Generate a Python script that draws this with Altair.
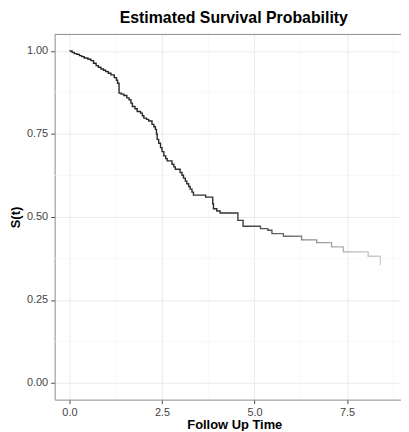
import altair as alt
import pandas as pd

# Kaplan-Meier style estimate
time = [0.0, 0.07, 0.13, 0.2, 0.27, 0.33, 0.4, 0.5, 0.58, 0.65, 0.72, 0.78, 0.85, 0.92,
        0.98, 1.05, 1.12, 1.21, 1.27, 1.3, 1.34, 1.4, 1.47, 1.55, 1.61, 1.66, 1.7, 1.77,
        1.83, 1.92, 1.97, 2.01, 2.08, 2.14, 2.23, 2.28, 2.32, 2.35, 2.37, 2.41, 2.46, 2.5,
        2.55, 2.6, 2.64, 2.77, 2.82, 2.86, 2.99, 3.04, 3.08, 3.13, 3.17, 3.22, 3.26, 3.31,
        3.35, 3.68, 3.87, 3.89, 3.98, 4.07, 4.55, 4.69, 5.16, 5.36, 5.47, 5.78, 6.27,
        6.68, 7.08, 7.4, 8.07, 8.4]
surv = [1.0, 0.996, 0.992, 0.99, 0.986, 0.983, 0.979, 0.975, 0.971, 0.963, 0.956, 0.951,
        0.946, 0.942, 0.938, 0.933, 0.928, 0.92, 0.912, 0.903, 0.873, 0.87, 0.866, 0.859,
        0.853, 0.843, 0.833, 0.826, 0.818, 0.813, 0.805, 0.798, 0.794, 0.789, 0.779, 0.772,
        0.764, 0.75, 0.734, 0.722, 0.709, 0.697, 0.684, 0.676, 0.669, 0.659, 0.651, 0.644,
        0.634, 0.626, 0.617, 0.608, 0.6, 0.592, 0.584, 0.575, 0.566, 0.56, 0.54, 0.525,
        0.518, 0.512, 0.49, 0.472, 0.465, 0.46, 0.45, 0.442, 0.431, 0.423, 0.41, 0.395,
        0.382, 0.355]

x_major = [0.0, 2.5, 5.0, 7.5]
x_minor = [1.25, 3.75, 6.25, 8.75]
y_major = [0.0, 0.25, 0.5, 0.75, 1.0]
y_minor = [0.125, 0.375, 0.625, 0.875]

W, H = 349, 368
XDOM = [-0.4, 8.956]
YDOM = [-0.05, 1.05]

df = pd.DataFrame({"time": time, "surv": surv})
xs = alt.Scale(domain=XDOM, nice=False, zero=False)
ys = alt.Scale(domain=YDOM, nice=False, zero=False)

minor_x = alt.Chart(pd.DataFrame({"v": x_minor})).mark_rule(
    color="#f4f4f4", strokeWidth=0.6
).encode(x=alt.X("v:Q", scale=xs), y=alt.value(0), y2=alt.value(H))

minor_y = alt.Chart(pd.DataFrame({"v": y_minor})).mark_rule(
    color="#f4f4f4", strokeWidth=0.6
).encode(y=alt.Y("v:Q", scale=ys), x=alt.value(0), x2=alt.value(W))

line = alt.Chart(df).mark_line(
    interpolate="step-after",
    strokeWidth=1.4,
    color=alt.Gradient(
        gradient="linear",
        x1=0, x2=1, y1=0, y2=0,
        stops=[
            alt.GradientStop(color="#222222", offset=0),
            alt.GradientStop(color="#303030", offset=0.5),
            alt.GradientStop(color="#5a5a5a", offset=0.65),
            alt.GradientStop(color="#9a9a9a", offset=0.8),
            alt.GradientStop(color="#d0d0d0", offset=1),
        ],
    ),
).encode(
    x=alt.X("time:Q", scale=xs, title="Follow Up Time",
            axis=alt.Axis(values=x_major, format=".1f")),
    y=alt.Y("surv:Q", scale=ys, title="S(t)",
            axis=alt.Axis(values=y_major, format=".2f")),
)

top = alt.Chart(pd.DataFrame({"a": [0]})).mark_rule(
    color="#8c8c8c", strokeWidth=1
).encode(x=alt.value(0), x2=alt.value(W), y=alt.value(0))

chart = alt.layer(minor_x, minor_y, line, top).properties(
    width=W, height=H,
    title=alt.Title("Estimated Survival Probability", fontSize=16, fontWeight="bold",
                    font="Liberation Sans", color="#000000", anchor="middle", dx=6, offset=8),
    autosize=alt.AutoSizeParams(type="none"),
    padding={"left": 47, "top": 25, "right": 0, "bottom": 30},
).configure_view(stroke=None).configure_axis(
    grid=True, gridColor="#ebebeb", gridWidth=1,
    domainColor="#8c8c8c", domainWidth=1,
    tickColor="#4d4d4d", tickSize=4, tickWidth=1,
    labelColor="#444444", labelFont="Liberation Sans", labelFontSize=11, labelPadding=3,
    titleFont="Liberation Sans", titleFontSize=13, titleFontWeight="bold", titleColor="#000000",
).configure_axisX(titlePadding=1, titleX=181, titleAlign="center").configure_axisY(titlePadding=4)

chart.save("out.html", embed_options={"renderer": "svg", "actions": False})
